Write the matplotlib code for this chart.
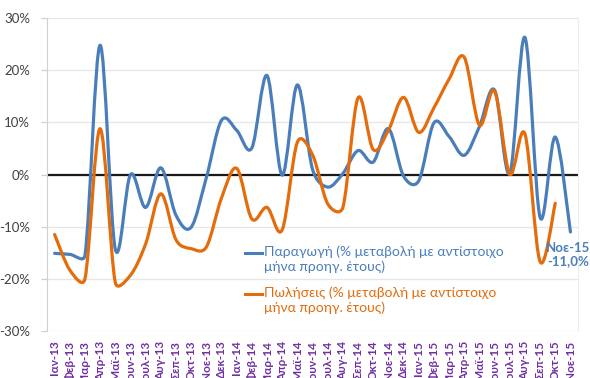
import numpy as np
import matplotlib
matplotlib.use("Agg")
import matplotlib.pyplot as plt
from matplotlib.path import Path
from matplotlib.patches import PathPatch
from matplotlib.lines import Line2D

plt.rcParams['font.family'] = ['Lato', 'Noto Sans', 'DejaVu Sans']

months = ['Ιαν-13', 'Φεβ-13', 'Μαρ-13', 'Απρ-13', 'Μαϊ-13', 'Ιουν-13', 'Ιουλ-13', 'Αυγ-13',
          'Σεπ-13', 'Οκτ-13', 'Νοε-13', 'Δεκ-13',
          'Ιαν-14', 'Φεβ-14', 'Μαρ-14', 'Απρ-14', 'Μαϊ-14', 'Ιουν-14', 'Ιουλ-14', 'Αυγ-14',
          'Σεπ-14', 'Οκτ-14', 'Νοε-14', 'Δεκ-14',
          'Ιαν-15', 'Φεβ-15', 'Μαρ-15', 'Απρ-15', 'Μαϊ-15', 'Ιουν-15', 'Ιουλ-15', 'Αυγ-15',
          'Σεπ-15', 'Οκτ-15', 'Νοε-15']

# Production, % change vs same month of previous year
production = [-15.1, -15.3, -15.5, 24.8, -14.3, 0.0, -6.3, 1.3, -7.8, -10.1, -0.6, 10.4,
              8.5, 5.1, 19.0, -0.1, 17.2, 1.0, -2.4, 0.2, 4.6, 2.4, 8.8, -0.3,
              -1.2, 9.9, 7.3, 3.7, 9.2, 16.2, 0.2, 26.3, -8.2, 7.2, -11.0]

# Sales, % change vs same month of previous year (no figure yet for the last month)
sales = [-11.5, -18.3, -20.0, 8.8, -20.7, -19.3, -13.3, -3.7, -12.5, -14.2, -13.9, -4.5,
         1.2, -8.5, -6.3, -10.6, 6.2, 3.8, -5.6, -6.3, 14.7, 4.8, 8.5, 14.8,
         8.1, 12.8, 18.3, 22.5, 9.5, 16.0, 0.1, 7.8, -16.7, -5.5, None]

yticks = [-30, -20, -10, 0, 10, 20, 30]

label_prod = 'Παραγωγή (% μεταβολή με αντίστοιχο\nμήνα προηγ. έτους)'
label_sales = 'Πωλήσεις (% μεταβολή με αντίστοιχο\nμήνα προηγ. έτους)'

BLUE = '#4A7EBB'
ORANGE = '#E46C0A'
PURPLE = '#7030A0'


def smooth_path(values, sx, sy, tension=1.0 / 6.0, cap=0.55):
    """Smoothed Bezier path through the points.

    Tangents follow the neighbouring points (Catmull-Rom); each control arm is
    limited to a share of its own segment's on-screen length, so flat stretches
    next to steep jumps do not overshoot.
    """
    pts = np.array([(i, v) for i, v in enumerate(values) if v is not None], dtype=float)
    scale = np.array([sx, sy])
    n = len(pts)

    def arm(vec, d12):
        length = np.hypot(*(vec * scale))
        if length > cap * d12 and length > 0:
            vec = vec * (cap * d12 / length)
        return vec

    verts = [tuple(pts[0])]
    codes = [Path.MOVETO]
    for i in range(n - 1):
        p0 = pts[max(i - 1, 0)]
        p1 = pts[i]
        p2 = pts[i + 1]
        p3 = pts[min(i + 2, n - 1)]
        d12 = np.hypot(*((p2 - p1) * scale))
        c1 = p1 + arm((p2 - p0) * tension, d12)
        c2 = p2 - arm((p3 - p1) * tension, d12)
        verts += [tuple(c1), tuple(c2), tuple(p2)]
        codes += [Path.CURVE4] * 3
    return Path(verts, codes)


fig = plt.figure(figsize=(5.90, 3.78), dpi=100)
ax = fig.add_axes([0.0797, 0.1243, 0.9, 0.8277])

x = np.arange(len(months))
ax.set_xlim(-0.5, len(months) - 0.5)
ax.set_ylim(-30, 30)

ax.set_yticks(yticks)
ax.set_yticklabels([f'{v}%' for v in yticks], color='#404040', fontsize=9.5)
ax.grid(axis='y', color='#E6E6E6', lw=0.9)
ax.set_axisbelow(True)
ax.axhline(0, color='#1A1A1A', lw=1.6, zorder=2)

ax.set_xticks(x)
ax.set_xticklabels(months, rotation=90, color=PURPLE, fontsize=8.5, fontweight='bold')
ax.tick_params(axis='x', length=0, pad=7)
ax.tick_params(axis='y', length=4, color='#D0D0D0', width=0.9, pad=8)

for side in ('top', 'bottom'):
    ax.spines[side].set_visible(False)
ax.spines['left'].set_color('#D0D0D0')
ax.spines['right'].set_color('#EDEDED')

# screen scale of one data unit along each axis
bbox = ax.get_window_extent()
sx = bbox.width / len(months)
sy = bbox.height / 60.0

for vals, col in ((production, BLUE), (sales, ORANGE)):
    patch = PathPatch(smooth_path(vals, sx, sy), facecolor='none', edgecolor=col, lw=2.3,
                      capstyle='round', joinstyle='round', zorder=3)
    ax.add_patch(patch)

# Value label for the latest production reading
last = len(production) - 1
ax.annotate(f'{months[last]}\n{production[last]:.1f}%'.replace('.', ','),
            xy=(last, production[last]), xytext=(-1.5, -7), textcoords='offset points',
            ha='center', va='top', color=BLUE, fontsize=9.5, fontweight='bold',
            linespacing=1.15, annotation_clip=False)

# Legend drawn inside the plot area
W, H = 590.0, 378.0
for (ytop, txt, col) in ((253, label_prod, BLUE), (294, label_sales, ORANGE)):
    fig.add_artist(Line2D([245 / W, 262 / W], [1 - ytop / H, 1 - ytop / H],
                          color=col, lw=2.2))
    fig.text(264 / W, 1 - (ytop - 8) / H, txt, color=col, fontsize=10,
             ha='left', va='top', linespacing=1.25)

fig.savefig('out.png', dpi=100)
